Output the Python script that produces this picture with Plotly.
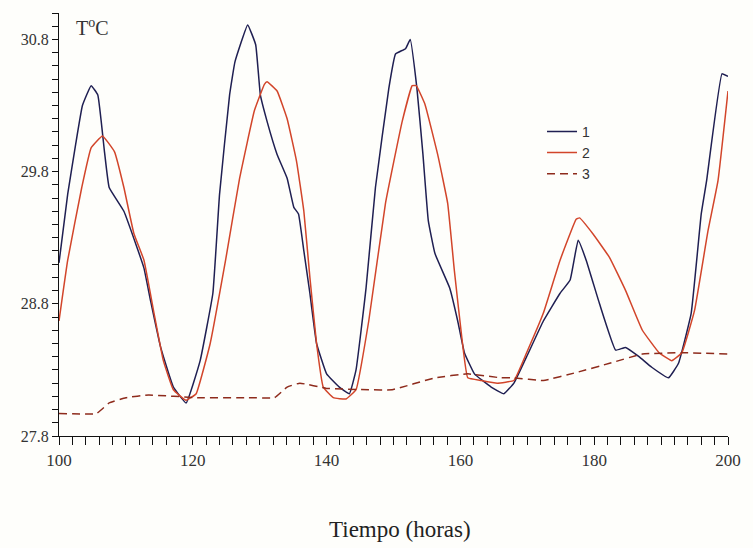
import plotly.graph_objects as go

# Series 1 (dark)
t1 = [100, 101.3, 102.5, 103.5, 104.8, 105.8, 106.8, 107.5, 109.7, 111.7, 112.7, 113.7, 115.2, 117.1, 119.0,
      121.1, 123.0, 124.0, 125.5, 126.3, 128.2, 129.4, 130.1, 131.1, 132.6, 134.1, 135.1, 135.8, 136.6, 137.5,
      138.5, 140.0, 141.9, 143.4, 144.4, 145.9, 147.3, 149.3, 150.3, 151.8, 152.5, 153.5, 154.4, 155.2, 156.2,
      158.4, 159.6, 160.6, 162.1, 164.6, 166.5, 168.0, 169.9, 172.4, 174.9, 176.4, 177.6, 178.8, 180.8, 183.2,
      184.7, 186.7, 188.6, 191.1, 192.6, 194.5, 196.0, 196.8, 199.1, 200]
temp1 = [29.11, 29.63, 30.01, 30.30, 30.45, 30.38, 29.95, 29.68, 29.50, 29.22, 29.07, 28.82, 28.47, 28.17, 28.05,
         28.37, 28.88, 29.63, 30.38, 30.63, 30.91, 30.76, 30.38, 30.18, 29.93, 29.75, 29.53, 29.48, 29.20, 28.88,
         28.50, 28.27, 28.17, 28.12, 28.30, 28.92, 29.68, 30.43, 30.69, 30.73, 30.80, 30.43, 29.93, 29.43, 29.18,
         28.92, 28.67, 28.43, 28.27, 28.17, 28.12, 28.20, 28.40, 28.67, 28.88, 28.98, 29.28, 29.13, 28.80, 28.45,
         28.47, 28.40, 28.32, 28.24, 28.35, 28.73, 29.48, 29.73, 30.54, 30.52]

# Series 2 (red)
t2 = [100, 101.3, 103.4, 104.8, 106.5, 108.3, 109.7, 111.2, 112.7, 114.2, 115.6, 117.1, 119.0, 120.5, 122.6,
      124.9, 127.0, 129.2, 130.7, 131.1, 132.6, 134.1, 135.5, 136.6, 137.5, 138.5, 139.5, 141.0, 142.9, 144.4,
      146.3, 148.8, 151.3, 152.8, 153.4, 154.7, 156.6, 158.1, 159.1, 160.2, 161.1, 163.1, 165.5, 168.0, 169.9,
      172.4, 174.9, 177.3, 177.8, 179.8, 182.3, 184.7, 187.2, 189.7, 191.6, 193.1, 195.0, 197.0, 198.5, 200]
temp2 = [28.67, 29.13, 29.68, 29.98, 30.07, 29.95, 29.68, 29.33, 29.13, 28.73, 28.37, 28.15, 28.07, 28.12, 28.50,
         29.13, 29.75, 30.26, 30.46, 30.48, 30.41, 30.20, 29.88, 29.50, 29.00, 28.50, 28.17, 28.09, 28.08, 28.15,
         28.67, 29.56, 30.18, 30.45, 30.45, 30.31, 29.93, 29.56, 29.05, 28.55, 28.24, 28.22, 28.20, 28.22, 28.43,
         28.73, 29.13, 29.44, 29.45, 29.33, 29.15, 28.90, 28.60, 28.43, 28.37, 28.43, 28.75, 29.35, 29.73, 30.41]

# Series 3 (dashed)
t3 = [100, 105.6, 107.5, 110, 113.4, 120.8, 128.2, 132.2, 134.1, 136, 140, 146.3, 149.8, 156.2, 161.1,
      166.1, 168, 172.4, 177.3, 182.3, 187.2, 193.1, 200]
temp3 = [27.97, 27.97, 28.05, 28.09, 28.11, 28.09, 28.09, 28.09, 28.17, 28.20, 28.16, 28.15, 28.15, 28.24, 28.27,
         28.24, 28.24, 28.22, 28.28, 28.35, 28.42, 28.43, 28.42]

names = ["1", "2", "3"]
x_range = [100, 200]
y_range = [27.8, 31.0]
x_labels = [100, 120, 140, 160, 180, 200]
y_labels = ["27.8", "28.8", "29.8", "30.8"]

# tick positions: every 2 h on x, every 0.1 degC on y (labels only on the major ones)
x_tickvals = list(range(100, 201, 2))
x_ticktext = [str(v) if v in x_labels else "" for v in x_tickvals]
y_tickvals = [round(27.8 + 0.1 * i, 1) for i in range(33)]
y_ticktext = [f"{v:.1f}" if f"{v:.1f}" in y_labels else "" for v in y_tickvals]

fig = go.Figure()
fig.add_trace(go.Scatter(x=t1, y=temp1, mode="lines", name=names[0],
                         line=dict(color="#1f1f52", width=1.5, shape="spline", smoothing=0.3)))
fig.add_trace(go.Scatter(x=t2, y=temp2, mode="lines", name=names[1],
                         line=dict(color="#d2452a", width=1.5, shape="spline", smoothing=0.3)))
fig.add_trace(go.Scatter(x=t3, y=temp3, mode="lines", name=names[2],
                         line=dict(color="#8e2b1c", width=1.5, dash="8px,5px", shape="spline", smoothing=0.3)))

serif = "Liberation Serif"
fig.update_layout(
    width=753, height=548,
    margin=dict(l=59, r=15, t=13, b=112),
    paper_bgcolor="#fefefb", plot_bgcolor="#fefefb",
    showlegend=True,
    legend=dict(x=0.722, y=0.757, xanchor="left", yanchor="top",
                bgcolor="rgba(0,0,0,0)", font=dict(family="Liberation Sans", size=14, color="#333"),
                tracegroupgap=0),
    xaxis=dict(range=x_range, tickmode="array", tickvals=x_tickvals, ticktext=x_ticktext,
               showgrid=False, zeroline=False, showline=True, linecolor="#111", linewidth=1.2,
               ticks="outside", ticklen=8, tickwidth=1.3, tickcolor="#111",
               tickfont=dict(family=serif, size=17, color="#333")),
    yaxis=dict(range=y_range, tickmode="array", tickvals=y_tickvals, ticktext=y_ticktext,
               showgrid=False, zeroline=False, showline=True, linecolor="#111", linewidth=1.2,
               ticks="outside", ticklen=6, tickwidth=1.3, tickcolor="#111",
               tickfont=dict(family=serif, size=16, color="#333")),
    annotations=[
        dict(text="T<sup>o</sup>C", xref="paper", yref="paper", x=0.05, y=0.968,
             xanchor="center", yanchor="middle", showarrow=False,
             font=dict(family=serif, size=20, color="#333")),
        dict(text="Tiempo (horas)", xref="paper", yref="paper", x=0.51, y=-0.222,
             xanchor="center", yanchor="middle", showarrow=False,
             font=dict(family=serif, size=23, color="#222")),
    ],
)

fig.write_html("out.html")
